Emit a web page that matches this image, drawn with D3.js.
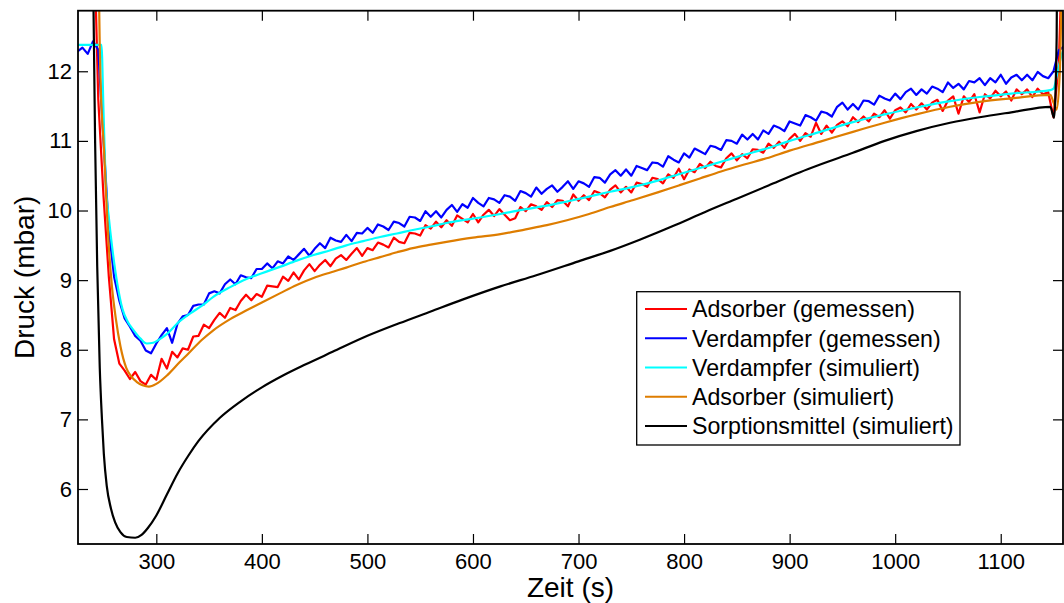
<!DOCTYPE html>
<html>
<head>
<meta charset="utf-8">
<script src="https://cdn.jsdelivr.net/npm/d3@7"></script>
<style>
  body { margin: 0; background: #fff; }
  svg { display: block; font-family: "Liberation Sans", Arial, sans-serif; }
</style>
</head>
<body>
<div class="chart"></div>
<script>
// axis ticks
const xTicks = [300, 400, 500, 600, 700, 800, 900, 1000, 1100];
const yTicks = [6, 7, 8, 9, 10, 11, 12];

// legend entries (drawing order)
const seriesNames = [
   "Adsorber (gemessen)",
   "Verdampfer (gemessen)",
   "Verdampfer (simuliert)",
   "Adsorber (simuliert)",
   "Sorptionsmittel (simuliert)"
];
const seriesColors = ["#ff0000", "#0000ff", "#00ffff", "#de7d00", "#000000"];

// measured series, sampled every 5 s from 225 s
const measStart = 225;
const measStep = 5;
const adsorberMeas = [
   14.5, 14.5, 14.5, 14.5, 11.6, 10.2, 9.05, 8.15, 7.80, 7.70,
   7.58, 7.68, 7.55, 7.50, 7.64, 7.57, 7.87, 7.73, 7.97, 7.89,
   8.02, 8.00, 8.19, 8.20, 8.36, 8.31, 8.43, 8.53, 8.46, 8.60,
   8.57, 8.70, 8.79, 8.71, 8.80, 8.76, 8.92, 8.91, 8.90, 9.05,
   8.99, 9.11, 9.01, 9.14, 9.23, 9.13, 9.22, 9.29, 9.20, 9.31,
   9.36, 9.29, 9.38, 9.46, 9.35, 9.46, 9.43, 9.54, 9.51, 9.47,
   9.61, 9.55, 9.53, 9.68, 9.67, 9.64, 9.79, 9.74, 9.84, 9.76,
   9.86, 9.78, 9.93, 9.88, 9.83, 9.95, 9.83, 9.94, 10.01, 9.92,
   10.02, 9.94, 9.86, 9.89, 10.05, 9.99, 10.09, 10.06, 10.01, 10.12,
   10.05, 10.15, 10.14, 10.06, 10.23, 10.14, 10.22, 10.15, 10.28, 10.25,
   10.19, 10.30, 10.36, 10.26, 10.34, 10.26, 10.40, 10.38, 10.34, 10.47,
   10.45, 10.39, 10.52, 10.47, 10.60, 10.45, 10.59, 10.55, 10.67, 10.61,
   10.70, 10.64, 10.62, 10.75, 10.82, 10.72, 10.81, 10.75, 10.88, 10.87,
   10.83, 10.96, 10.90, 10.99, 10.90, 11.03, 11.10, 11.00, 11.11, 11.06,
   11.26, 11.10, 11.22, 11.12, 11.23, 11.28, 11.21, 11.34, 11.27, 11.35,
   11.28, 11.39, 11.34, 11.44, 11.32, 11.44, 11.48, 11.41, 11.53, 11.45,
   11.54, 11.45, 11.55, 11.59, 11.43, 11.58, 11.64, 11.39, 11.64, 11.56,
   11.67, 11.41, 11.67, 11.61, 11.72, 11.64, 11.71, 11.58, 11.74, 11.67,
   11.74, 11.63, 11.75, 11.67, 11.70, 11.34, 12.1, 14.5
];
const verdampferMeas = [
   12.28, 12.34, 12.25, 12.43, 12.31, 11.0, 9.72, 9.05, 8.70, 8.45,
   8.33, 8.20, 8.13, 7.99, 7.95, 8.09, 8.21, 8.31, 8.10, 8.37,
   8.48, 8.50, 8.63, 8.65, 8.65, 8.81, 8.84, 8.81, 8.94, 9.01,
   8.94, 9.07, 9.04, 9.03, 9.16, 9.16, 9.24, 9.17, 9.27, 9.24,
   9.34, 9.29, 9.37, 9.45, 9.35, 9.45, 9.53, 9.46, 9.61, 9.57,
   9.55, 9.65, 9.56, 9.68, 9.67, 9.75, 9.68, 9.80, 9.77, 9.72,
   9.84, 9.82, 9.77, 9.91, 9.90, 9.85, 9.99, 9.91, 9.99, 9.90,
   10.01, 10.08, 9.98, 10.09, 10.04, 10.18, 10.11, 10.06, 10.18, 10.16,
   10.11, 10.22, 10.20, 10.14, 10.28, 10.25, 10.20, 10.33, 10.24, 10.31,
   10.36, 10.27, 10.34, 10.42, 10.31, 10.42, 10.39, 10.34, 10.48, 10.47,
   10.40, 10.52, 10.58, 10.50, 10.59, 10.50, 10.64, 10.61, 10.58, 10.69,
   10.68, 10.63, 10.78, 10.73, 10.69, 10.82, 10.76, 10.89, 10.85, 10.81,
   10.93, 10.91, 10.87, 11.01, 11.00, 10.96, 11.09, 11.02, 11.10, 11.02,
   11.15, 11.10, 11.22, 11.19, 11.14, 11.28, 11.25, 11.22, 11.37, 11.34,
   11.29, 11.42, 11.40, 11.35, 11.49, 11.55, 11.45, 11.53, 11.45, 11.58,
   11.57, 11.52, 11.65, 11.61, 11.58, 11.68, 11.60, 11.70, 11.75, 11.66,
   11.74, 11.68, 11.78, 11.75, 11.70, 11.84, 11.76, 11.82, 11.74, 11.86,
   11.84, 11.90, 11.80, 11.90, 11.84, 11.95, 11.82, 11.91, 11.95, 11.87,
   11.95, 11.87, 11.99, 11.93, 11.90, 12.00, 12.30, 12.36
];

// simulated series as (time, value) samples
const verdampferSimT = [225, 248, 250, 252, 255, 258.5, 263, 268, 273, 278, 285, 291, 297, 304, 311, 320, 333, 343, 354, 370, 386, 400, 417, 433, 449, 465, 480, 496, 512, 528, 543, 560, 575, 590, 607, 626, 650, 670, 689, 710, 730, 752, 775, 795, 815, 835, 857, 878, 900, 929, 960, 990, 1020, 1052, 1080, 1110, 1147, 1150, 1154, 1158, 1161];
const verdampferSimV = [12.38, 12.38, 11.40, 10.42, 9.90, 9.43, 8.95, 8.58, 8.40, 8.29, 8.16, 8.09, 8.10, 8.16, 8.24, 8.38, 8.53, 8.63, 8.76, 8.90, 9.02, 9.10, 9.19, 9.28, 9.36, 9.43, 9.50, 9.56, 9.62, 9.67, 9.72, 9.77, 9.82, 9.86, 9.90, 9.95, 10.02, 10.07, 10.13, 10.20, 10.27, 10.34, 10.43, 10.52, 10.61, 10.70, 10.80, 10.89, 11.00, 11.13, 11.27, 11.38, 11.48, 11.57, 11.63, 11.68, 11.73, 11.75, 12.00, 12.25, 12.35];

const adsorberSimT = [225, 244, 246.5, 247, 250.3, 255.2, 258, 261.7, 266, 271.5, 276, 281.3, 287, 293, 300, 310.7, 322, 330, 343, 354, 370, 386, 400, 417, 433, 449, 465, 480, 496, 512, 528, 543, 560, 575, 600, 626, 650, 670, 689, 710, 730, 752, 775, 795, 815, 835, 857, 878, 900, 929, 960, 990, 1020, 1052, 1080, 1110, 1147, 1150, 1153, 1156, 1159];
const adsorberSimV = [14.5, 14.5, 12.3, 11.95, 10.91, 9.43, 8.90, 8.44, 8.05, 7.74, 7.62, 7.54, 7.49, 7.47, 7.51, 7.64, 7.82, 7.94, 8.14, 8.28, 8.44, 8.57, 8.68, 8.81, 8.93, 9.03, 9.11, 9.18, 9.26, 9.33, 9.40, 9.46, 9.51, 9.55, 9.61, 9.66, 9.73, 9.79, 9.86, 9.95, 10.05, 10.15, 10.26, 10.36, 10.46, 10.56, 10.66, 10.75, 10.86, 10.99, 11.13, 11.26, 11.38, 11.49, 11.56, 11.61, 11.66, 11.55, 11.45, 12.0, 14.5];

const sorptionSimT = [225, 239, 240.5, 242, 244, 246.4, 248.5, 250.3, 253, 257, 261, 266, 272, 280, 286, 292, 300, 310, 320, 330, 340, 360, 380, 400, 420, 440, 467, 500, 530, 560, 590, 626, 660, 700, 730, 758, 790, 820, 850, 880, 910, 929, 960, 990, 1020, 1052, 1080, 1110, 1147, 1150.5, 1153, 1154];
const sorptionSimV = [15, 15, 12.9, 11.0, 9.2, 7.75, 7.0, 6.5, 6.05, 5.72, 5.52, 5.38, 5.31, 5.30, 5.34, 5.44, 5.62, 5.92, 6.22, 6.47, 6.69, 7.02, 7.26, 7.46, 7.63, 7.78, 7.97, 8.20, 8.38, 8.55, 8.72, 8.91, 9.07, 9.27, 9.42, 9.58, 9.78, 9.98, 10.17, 10.36, 10.55, 10.66, 10.83, 11.00, 11.14, 11.26, 11.34, 11.41, 11.49, 11.33, 12.5, 15];

// setup chart
const width = 1064;
const height = 603;
const plot = { left: 78, right: 1063, top: 10.7, bottom: 544 };

const svg = d3.select(".chart").append("svg").attr("width", width).attr("height", height);

const x = d3.scaleLinear().domain([225.8, 1159]).range([plot.left, plot.right]);
const y = d3.scaleLinear().domain([5.21, 12.87]).range([plot.bottom, plot.top]);

svg.append("clipPath").attr("id", "clip")
   .append("rect")
   .attr("x", plot.left).attr("y", plot.top)
   .attr("width", plot.right - plot.left).attr("height", plot.bottom - plot.top);

// build series
const measTime = (i) => measStart + i * measStep;
const series = [
   adsorberMeas.map((v, i) => [measTime(i), v]),
   verdampferMeas.map((v, i) => [measTime(i), v]),
   verdampferSimT.map((t, i) => [t, verdampferSimV[i]]),
   adsorberSimT.map((t, i) => [t, adsorberSimV[i]]),
   sorptionSimT.map((t, i) => [t, sorptionSimV[i]])
];
const curves = [d3.curveLinear, d3.curveLinear, d3.curveMonotoneX, d3.curveMonotoneX, d3.curveMonotoneX];

const lines = svg.append("g").attr("clip-path", "url(#clip)");
series.forEach((pts, k) => {
   const line = d3.line().x((d) => x(d[0])).y((d) => y(d[1])).curve(curves[k]);
   lines.append("path")
      .attr("d", line(pts))
      .attr("fill", "none")
      .attr("stroke", seriesColors[k])
      .attr("stroke-width", 2.2)
      .attr("stroke-linejoin", "round");
});

// axes with inward ticks
const tickFont = (g) => g.selectAll("text").attr("font-size", 22).attr("font-family", "Liberation Sans, Arial, sans-serif").attr("fill", "#000");
const clean = (g) => {
   g.select(".domain").remove();
   g.selectAll("line").attr("stroke", "#000").attr("stroke-width", 1.2);
};

svg.append("g")
   .attr("transform", `translate(0,${plot.bottom})`)
   .call(d3.axisBottom(x).tickValues(xTicks).tickSize(-10).tickPadding(9).tickFormat(d3.format("d")))
   .call(clean).call(tickFont);
svg.append("g")
   .attr("transform", `translate(0,${plot.top})`)
   .call(d3.axisTop(x).tickValues(xTicks).tickSize(-10).tickFormat(""))
   .call(clean);
svg.append("g")
   .attr("transform", `translate(${plot.left},0)`)
   .call(d3.axisLeft(y).tickValues(yTicks).tickSize(-10).tickPadding(6).tickFormat(d3.format("d")))
   .call(clean).call(tickFont);
svg.append("g")
   .attr("transform", `translate(${plot.right},0)`)
   .call(d3.axisRight(y).tickValues(yTicks).tickSize(-10).tickFormat(""))
   .call(clean);

// frame
svg.append("rect")
   .attr("x", plot.left).attr("y", plot.top)
   .attr("width", plot.right - plot.left).attr("height", plot.bottom - plot.top)
   .attr("fill", "none").attr("stroke", "#000").attr("stroke-width", 1.8);

// axis titles
svg.append("text")
   .attr("x", (plot.left + plot.right) / 2).attr("y", 597)
   .attr("text-anchor", "middle").attr("font-size", 28)
   .text("Zeit (s)");
svg.append("text")
   .attr("transform", `translate(34,${(plot.top + plot.bottom) / 2}) rotate(-90)`)
   .attr("text-anchor", "middle").attr("font-size", 28)
   .text("Druck (mbar)");

// legend
const legend = svg.append("g");
legend.append("rect")
   .attr("x", 636.7).attr("y", 291.7).attr("width", 323.3).attr("height", 153.3)
   .attr("fill", "#fff").attr("stroke", "#000").attr("stroke-width", 1.3);
seriesNames.forEach((name, i) => {
   const ry = 309 + i * 29.25;
   legend.append("line")
      .attr("x1", 645).attr("x2", 687).attr("y1", ry).attr("y2", ry)
      .attr("stroke", seriesColors[i]).attr("stroke-width", 2);
   legend.append("text")
      .attr("x", 692).attr("y", ry).attr("dy", "0.36em")
      .attr("font-size", 23.2)
      .text(name);
});
</script>
